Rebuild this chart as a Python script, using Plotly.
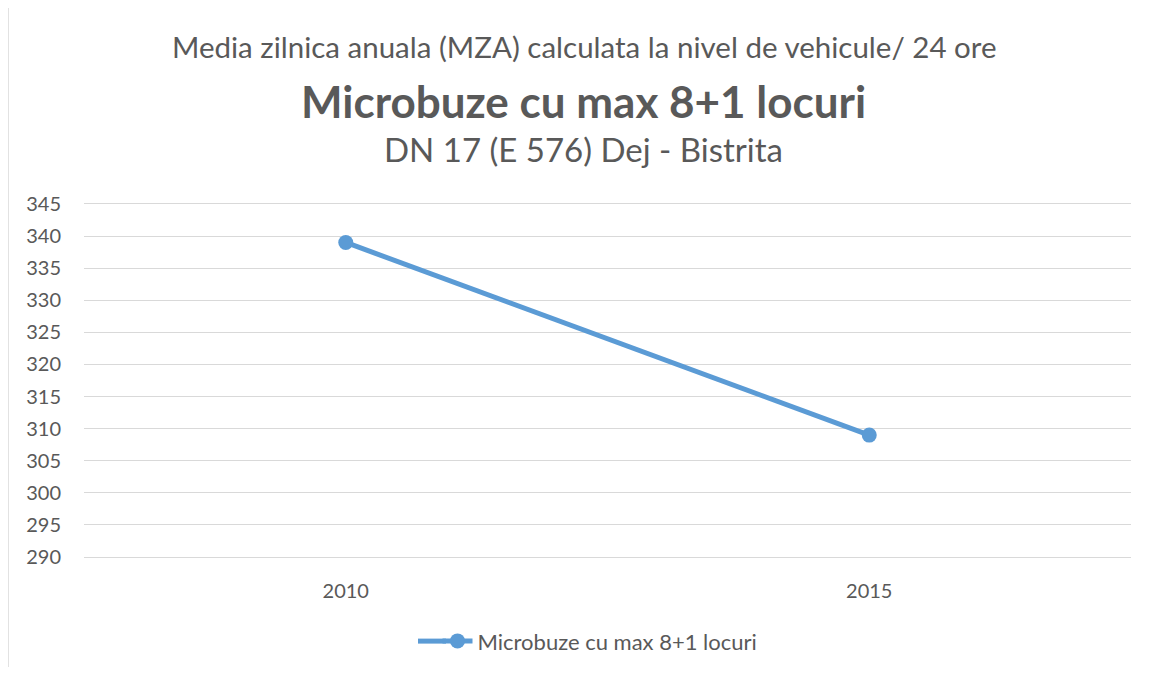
import plotly.graph_objects as go

years = ["2010", "2015"]
values = [339, 309]
series_name = "Microbuze cu max 8+1 locuri"
title_line1 = "Media zilnica anuala (MZA) calculata la nivel de vehicule/ 24 ore"
title_line2 = "Microbuze cu max 8+1 locuri"
title_line3 = "DN 17 (E 576) Dej - Bistrita"
y_ticks = list(range(290, 346, 5))

FONT = "Lato"
TXT = "#595959"
BLUE = "#5B9BD5"

# page has an 8px body margin; work in screen (reference) pixels
OFF = 8
W, H = 1134, 659
YPAD = 0.3
PL, PR = 84, 1131
Y345, Y290 = 204, 557                   # screen px of top / bottom gridlines
ppu = (Y290 - Y345) / 55.0
PT, PB = Y345 - YPAD * ppu, Y290 + YPAD * ppu
L, T = PL - OFF, PT - OFF
R = W - (PR - OFF)
B = H - (PB - OFF)
pw, ph = W - L - R, H - T - B

def px_x(x):
    return (x - OFF - L) / pw

def px_y(y):
    return (H - B - (y - OFF)) / ph

fig = go.Figure()
fig.add_trace(go.Scatter(
    x=years, y=values, mode="lines+markers", name=series_name,
    line=dict(color=BLUE, width=5),
    marker=dict(color=BLUE, size=15),
))

annots = [
    dict(text=title_line1, y=47, size=29.5, bold=False),
    dict(text=title_line2, y=101, size=44, bold=True),
    dict(text=title_line3, y=149, size=33, bold=False),
]
annotations = []
for a in annots:
    annotations.append(dict(
        text=("<b>%s</b>" % a["text"]) if a["bold"] else a["text"],
        xref="paper", yref="paper", x=px_x(583.5), y=px_y(a["y"]),
        xanchor="center", yanchor="middle", showarrow=False,
        font=dict(family=FONT, size=a["size"], color=TXT),
    ))

LEG_Y = 641
fig.update_layout(
    width=W, height=H,
    margin=dict(l=L, r=R, t=T, b=B, pad=0, autoexpand=False),
    paper_bgcolor="white", plot_bgcolor="white",
    font=dict(family=FONT, color=TXT, size=20),
    annotations=annotations,
    showlegend=True,
    legend=dict(orientation="h", x=px_x(600), xanchor="center",
                y=px_y(LEG_Y), yanchor="middle",
                font=dict(family=FONT, size=22, color=TXT),
                itemwidth=30, bgcolor="rgba(0,0,0,0)"),
    xaxis=dict(type="category", range=[-0.5, 1.5], showgrid=False,
               showline=False, zeroline=False, ticks="", automargin=False,
               ticklabelstandoff=18, tickfont=dict(size=20, color=TXT)),
    yaxis=dict(range=[290 - YPAD, 345 + YPAD], tickvals=y_ticks, showgrid=True,
               gridcolor="#d9d9d9", gridwidth=1.3, zeroline=False,
               showline=False, ticks="", ticklabelstandoff=22, automargin=False,
               tickfont=dict(size=20, color=TXT)),
    shapes=[
        dict(type="rect", xref="paper", yref="paper",
             x0=px_x(8), x1=px_x(1300), y0=px_y(800), y1=px_y(7.5),
             line=dict(color="#d9d9d9", width=1.5), layer="below"),
        # lengthen the legend's line sample to the reference's wider key
        dict(type="line", xref="paper", yref="paper",
             x0=px_x(418), x1=px_x(446), y0=px_y(LEG_Y), y1=px_y(LEG_Y),
             line=dict(color=BLUE, width=5), layer="above"),
    ],
)

fig.write_html("out.html")
